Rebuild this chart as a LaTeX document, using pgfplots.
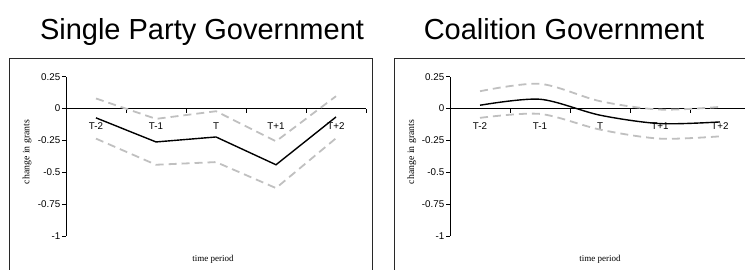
\documentclass[border=0pt]{standalone}
\usepackage{pgfplots}
\pgfplotsset{compat=1.18}
\usepackage{fontspec}
\newfontfamily\arialf{Liberation Sans}
\newfontfamily\tnrf{Liberation Serif}
\definecolor{ci}{RGB}{192,192,192}
\definecolor{frame}{RGB}{40,40,40}
\pgfplotsset{
  grantaxis/.style={
    scale only axis, width=300pt, height=159.3pt,
    xmin=0.5, xmax=5.5, ymin=-1, ymax=0.25,
    axis y line*=left, axis x line*=middle,
    axis line style={black, line width=0.8pt},
    xtick={1,2,3,4,5},
    xticklabels={T-2,T-1,T,T+1,T+2},
    minor xtick={0.5,1.5,2.5,3.5,4.5,5.5},
    major x tick style={draw=none},
    minor x tick style={black, line width=0.8pt},
    ytick={-1,-0.75,-0.5,-0.25,0,0.25},
    yticklabels={-1,-0.75,-0.5,-0.25,0,0.25},
    y tick style={black, line width=0.8pt},
    tick align=outside, major tick length=4pt, minor tick length=4pt,
    tick label style={font=\arialf\fontsize{9.8}{10}\selectfont},
    x tick label style={anchor=north, yshift=-7pt},
    y tick label style={inner sep=1.5pt},
    xlabel={time period},
    ylabel={change in grants},
    xlabel style={font=\tnrf\fontsize{9}{9}\selectfont, anchor=base, at={(axis description cs:0.49,-0.157)}},
    ylabel style={font=\tnrf\fontsize{9.8}{10}\selectfont, anchor=center, at={(axis description cs:-0.13,0.527)}},
    clip=false,
  },
  est/.style={black, line width=1.4pt},
  band/.style={ci, line width=1.8pt, dash pattern=on 8pt off 5pt},
}
\begin{document}
\begin{tikzpicture}[x=1pt,y=1pt]
\clip (0,0) rectangle (745,270);
\path[use as bounding box] (0,0) rectangle (745,270);
\draw[frame, line width=1pt] (9.5,211) rectangle (372.5,-10);
\draw[frame, line width=1pt] (394,211) rectangle (770,-10);
\node[anchor=base, font=\arialf\fontsize{29}{30}\selectfont, inner sep=0] at (202,230) {Single Party Government};
\node[anchor=base, font=\arialf\fontsize{29}{30}\selectfont, inner sep=0] at (564,230) {Coalition Government};

\begin{axis}[grantaxis, at={(66pt,34pt)}, anchor=south west]
\addplot[band] coordinates {(1,0.079) (2,-0.081) (3,-0.021) (4,-0.257) (5,0.097)};
\addplot[band] coordinates {(1,-0.236) (2,-0.441) (3,-0.420) (4,-0.624) (5,-0.233)};
\addplot[est] coordinates {(1,-0.073) (2,-0.262) (3,-0.223) (4,-0.441) (5,-0.066)};
\end{axis}

\begin{axis}[grantaxis, at={(450pt,34pt)}, anchor=south west,
  xlabel style={at={(axis description cs:0.5,-0.157)}},
  ylabel style={at={(axis description cs:-0.127,0.527)}}]
\addplot[band, smooth, tension=0.5] coordinates {(1,0.136) (2,0.194) (3,0.058) (4,-0.008) (5,0.013)};
\addplot[band, smooth, tension=0.5] coordinates {(1,-0.073) (2,-0.042) (3,-0.165) (4,-0.236) (5,-0.218)};
\addplot[est, smooth, tension=0.5] coordinates {(1,0.026) (2,0.073) (3,-0.052) (4,-0.118) (5,-0.105)};
\end{axis}
\end{tikzpicture}
\end{document}
